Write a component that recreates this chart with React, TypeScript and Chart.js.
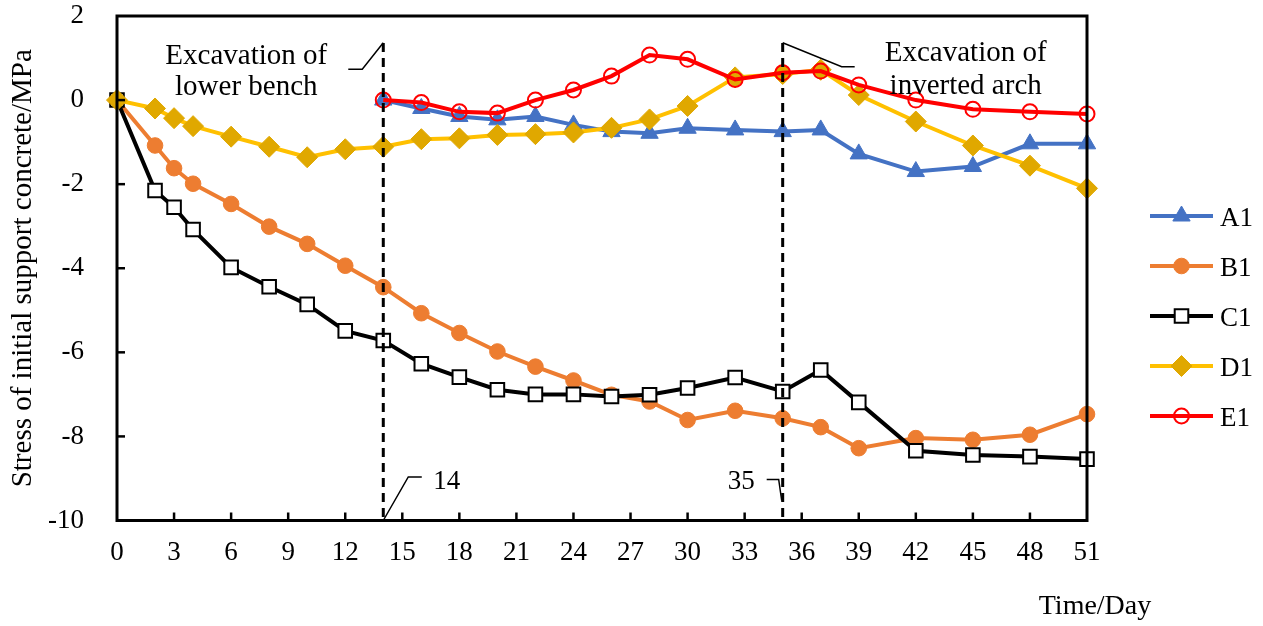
import React, { useEffect, useRef } from "react";
import { Chart, registerables } from "chart.js";

Chart.register(...registerables);

// ---- data ----
const daysAll = [0, 2, 3, 4, 6, 8, 10, 12, 14, 16, 18, 20, 22, 24, 26, 28, 30, 32.5, 35, 37, 39, 42, 45, 48, 51];
const daysLate = [14, 16, 18, 20, 22, 24, 26, 28, 30, 32.5, 35, 37, 39, 42, 45, 48, 51];

const A1 = [0, -0.2, -0.39, -0.47, -0.39, -0.59, -0.75, -0.79, -0.67, -0.71, -0.75, -0.71, -1.28, -1.7, -1.58, -1.04, -1.04];
const B1 = [0, -1.08, -1.62, -1.99, -2.47, -3.01, -3.42, -3.94, -4.45, -5.07, -5.54, -5.98, -6.34, -6.67, -7.01, -7.17, -7.61, -7.39, -7.57, -7.78, -8.28, -8.04, -8.08, -7.96, -7.47];
const C1 = [0, -2.15, -2.55, -3.08, -3.98, -4.44, -4.86, -5.49, -5.72, -6.27, -6.59, -6.89, -7.0, -7.0, -7.05, -7.01, -6.85, -6.6, -6.93, -6.42, -7.19, -8.34, -8.44, -8.48, -8.54];
const D1 = [0, -0.2, -0.43, -0.62, -0.87, -1.11, -1.36, -1.17, -1.11, -0.93, -0.91, -0.83, -0.81, -0.77, -0.66, -0.46, -0.14, 0.54, 0.62, 0.72, 0.12, -0.51, -1.08, -1.56, -2.1];
const E1 = [0, -0.06, -0.28, -0.31, 0, 0.24, 0.57, 1.07, 0.97, 0.49, 0.65, 0.69, 0.36, 0, -0.22, -0.28, -0.33];

const seriesNames = ["A1", "B1", "C1", "D1", "E1"];
const eventDays = [14, 35];
const eventTexts = [
  ["Excavation of", "lower bench"],
  ["Excavation of", "inverted arch"],
];
const xTitle = "Time/Day";
const yTitle = "Stress of initial support concrete/MPa";

const FONT = '"Liberation Serif", "Times New Roman", serif';

const toPts = (xs: number[], ys: number[]) => xs.map((x, i) => ({ x, y: ys[i] }));

function drawMarker(ctx: CanvasRenderingContext2D, style: string, x: number, y: number, r: number, fill: string, stroke: string, bw: number) {
  ctx.beginPath();
  if (style === "triangle") {
    ctx.moveTo(x, y - r);
    ctx.lineTo(x + r * Math.sin((2 * Math.PI) / 3), y - r * Math.cos((2 * Math.PI) / 3));
    ctx.lineTo(x + r * Math.sin((4 * Math.PI) / 3), y - r * Math.cos((4 * Math.PI) / 3));
    ctx.closePath();
  } else if (style === "circle") {
    ctx.arc(x, y, r, 0, Math.PI * 2);
  } else if (style === "rect") {
    const s = r * Math.SQRT1_2;
    ctx.rect(x - s, y - s, 2 * s, 2 * s);
  } else if (style === "rectRot") {
    ctx.moveTo(x - r, y);
    ctx.lineTo(x, y - r);
    ctx.lineTo(x + r, y);
    ctx.lineTo(x, y + r);
    ctx.closePath();
  }
  ctx.fillStyle = fill;
  ctx.fill();
  ctx.lineWidth = bw;
  ctx.strokeStyle = stroke;
  ctx.stroke();
}

const overlayPlugin = {
  id: "overlay",
  afterDatasetsDraw(chart: any) {
    const { ctx, chartArea: ca, scales } = chart;
    const xs = scales.x;
    const ys = scales.y;
    ctx.save();

    // frame
    ctx.strokeStyle = "#000";
    ctx.lineWidth = 3;
    ctx.setLineDash([]);
    ctx.strokeRect(ca.left, ca.top, ca.right - ca.left, ca.bottom - ca.top);

    // inward tick marks
    ctx.lineWidth = 2.5;
    ys.ticks.forEach((t: any) => {
      if (t.value <= ys.min || t.value >= ys.max) return;
      const py = ys.getPixelForValue(t.value);
      ctx.beginPath();
      ctx.moveTo(ca.left, py);
      ctx.lineTo(ca.left + 8, py);
      ctx.stroke();
    });
    xs.ticks.forEach((t: any) => {
      if (t.value <= xs.min || t.value >= xs.max) return;
      const px = xs.getPixelForValue(t.value);
      ctx.beginPath();
      ctx.moveTo(px, ca.bottom);
      ctx.lineTo(px, ca.bottom - 8);
      ctx.stroke();
    });

    // event dashed lines
    ctx.lineWidth = 3;
    ctx.setLineDash([9, 6]);
    eventDays.forEach((d) => {
      const px = xs.getPixelForValue(d);
      ctx.beginPath();
      ctx.moveTo(px, ca.top + 27);
      ctx.lineTo(px, ca.bottom);
      ctx.stroke();
    });
    ctx.setLineDash([]);

    // leaders
    ctx.lineWidth = 1.5;
    const p0 = xs.getPixelForValue(eventDays[0]);
    const p1 = xs.getPixelForValue(eventDays[1]);
    ctx.beginPath();
    ctx.moveTo(p0 - 35, ca.top + 53.3);
    ctx.lineTo(p0 - 21, ca.top + 53.3);
    ctx.lineTo(p0, ca.top + 26.7);
    ctx.stroke();
    ctx.beginPath();
    ctx.moveTo(p1, ca.top + 26.7);
    ctx.lineTo(p1 + 59, ca.top + 50.7);
    ctx.lineTo(p1 + 72, ca.top + 50.7);
    ctx.stroke();
    ctx.beginPath();
    ctx.moveTo(p0, ca.bottom);
    ctx.lineTo(p0 + 25, ca.bottom - 43.5);
    ctx.lineTo(p0 + 38.5, ca.bottom - 43.5);
    ctx.stroke();
    ctx.beginPath();
    ctx.moveTo(p1 - 16, ca.bottom - 41);
    ctx.lineTo(p1 - 4, ca.bottom - 41);
    ctx.lineTo(p1 - 1, ca.bottom - 20);
    ctx.stroke();

    // texts
    ctx.fillStyle = "#000";
    ctx.font = `29px ${FONT}`;
    ctx.textAlign = "center";
    ctx.textBaseline = "alphabetic";
    ctx.fillText(eventTexts[0][0], p0 - 137, 64);
    ctx.fillText(eventTexts[0][1], p0 - 137, 95);
    ctx.fillText(eventTexts[1][0], p1 + 183, 61);
    ctx.fillText(eventTexts[1][1], p1 + 183, 93.5);

    ctx.font = `27px ${FONT}`;
    ctx.textAlign = "left";
    ctx.fillText(String(eventDays[0]), p0 + 50, ca.bottom - 32);
    ctx.textAlign = "right";
    ctx.fillText(String(eventDays[1]), p1 - 28, ca.bottom - 31.5);

    // x title
    ctx.font = `28px ${FONT}`;
    ctx.textAlign = "center";
    ctx.fillText(xTitle, ca.right + 8, 614);

    // legend
    const lx0 = ca.right + 63;
    const lx1 = ca.right + 126;
    chart.data.datasets.forEach((ds: any, i: number) => {
      const ly = 216 + i * 50;
      ctx.strokeStyle = ds.borderColor;
      ctx.lineWidth = ds.borderWidth;
      ctx.beginPath();
      ctx.moveTo(lx0, ly);
      ctx.lineTo(lx1, ly);
      ctx.stroke();
      drawMarker(ctx, ds.pointStyle, (lx0 + lx1) / 2, ly, ds.pointRadius, ds.pointBackgroundColor, ds.pointBorderColor, ds.pointBorderWidth);
      ctx.fillStyle = "#000";
      ctx.font = `27px ${FONT}`;
      ctx.textAlign = "left";
      ctx.textBaseline = "alphabetic";
      ctx.fillText(ds.label, lx1 + 7, ly + 10);
    });

    ctx.restore();
  },
};

export default function App() {
  const ref = useRef<HTMLCanvasElement | null>(null);

  useEffect(() => {
    if (!ref.current) return;
    const common = { tension: 0, borderWidth: 4, clip: false as any, showLine: true };
    const chart = new Chart(ref.current, {
      type: "line",
      data: {
        datasets: [
          {
            ...common,
            label: seriesNames[0],
            data: toPts(daysLate, A1),
            borderColor: "#4472C4",
            pointBackgroundColor: "#4472C4",
            pointBorderColor: "#4472C4",
            pointBorderWidth: 1,
            pointStyle: "triangle",
            pointRadius: 10,
            order: 5,
          },
          {
            ...common,
            label: seriesNames[1],
            data: toPts(daysAll, B1),
            borderColor: "#ED7D31",
            pointBackgroundColor: "#ED7D31",
            pointBorderColor: "#ED7D31",
            pointBorderWidth: 1,
            pointStyle: "circle",
            pointRadius: 7.8,
            order: 4,
          },
          {
            ...common,
            label: seriesNames[2],
            data: toPts(daysAll, C1),
            borderColor: "#000000",
            pointBackgroundColor: "#ffffff",
            pointBorderColor: "#000000",
            pointBorderWidth: 2,
            pointStyle: "rect",
            pointRadius: 9.6,
            order: 3,
          },
          {
            ...common,
            label: seriesNames[3],
            data: toPts(daysAll, D1),
            borderColor: "#FFC000",
            pointBackgroundColor: "#E0A800",
            pointBorderColor: "#E0A800",
            pointBorderWidth: 1,
            pointStyle: "rectRot",
            pointRadius: 10.5,
            order: 2,
          },
          {
            ...common,
            label: seriesNames[4],
            data: toPts(daysLate, E1),
            borderColor: "#FF0000",
            pointBackgroundColor: "rgba(0,0,0,0)",
            pointBorderColor: "#FF0000",
            pointBorderWidth: 2,
            pointStyle: "circle",
            pointRadius: 7.5,
            order: 1,
          },
        ] as any,
      },
      options: {
        responsive: false,
        animation: false,
        events: [],
        layout: { padding: { left: 0, top: 16, right: 176, bottom: 0 } },
        plugins: { legend: { display: false }, tooltip: { enabled: false } },
        scales: {
          x: {
            type: "linear",
            min: 0,
            max: 51,
            ticks: {
              stepSize: 3,
              color: "#000",
              font: { family: FONT, size: 27 },
              padding: 16,
              maxRotation: 0,
              autoSkip: false,
            },
            grid: { display: false, drawTicks: false },
            border: { display: false },
            afterFit: (s: any) => {
              s.height = 105.5;
              s.paddingLeft = 0;
              s.paddingRight = 0;
            },
          },
          y: {
            type: "linear",
            min: -10,
            max: 2,
            ticks: {
              stepSize: 2,
              color: "#000",
              font: { family: FONT, size: 27 },
              padding: 33,
            },
            grid: { display: false, drawTicks: false },
            border: { display: false },
            title: {
              display: true,
              text: yTitle,
              color: "#000",
              font: { family: FONT, size: 29 },
              padding: { top: 6, bottom: 0 },
            },
            afterFit: (s: any) => {
              s.width = 117;
              s.paddingTop = 0;
              s.paddingBottom = 0;
            },
          },
        },
      } as any,
      plugins: [overlayPlugin],
    });
    return () => chart.destroy();
  }, []);

  return (
    <div style={{ position: "absolute", left: 0, top: 0, width: 1263, height: 626, background: "#fff" }}>
      <canvas ref={ref} width={1263} height={626} />
    </div>
  );
}
